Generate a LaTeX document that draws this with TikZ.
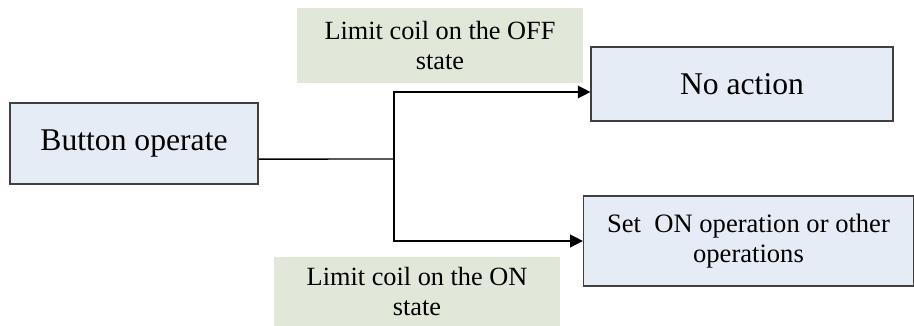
\documentclass[tikz,border=0pt]{standalone}
\usepackage{fontspec}
\setmainfont{Liberation Serif}
\usetikzlibrary{arrows.meta}
\definecolor{boxblue}{RGB}{230,236,246}
\definecolor{notegreen}{RGB}{225,232,218}
\begin{document}
\begin{tikzpicture}[x=0.025cm, y=-0.025cm,
        actionbox/.style={draw=black!75, line width=0.8pt, fill=boxblue, align=center, inner sep=0pt},
        statenote/.style={fill=notegreen, align=center, inner sep=0pt, minimum width=7.15cm,
            font=\fontsize{18.7}{21}\selectfont},
        flow/.style={line width=1pt, -{Triangle[length=9pt, width=9pt]}}]
        \useasboundingbox (0,0) rectangle (914,326);

        \node[actionbox, minimum width=6.2cm, minimum height=2.025cm,
            font=\fontsize{22.5}{25}\selectfont] (button) at (134,143.5) {Button operate};
        \node[actionbox, minimum width=7.55cm, minimum height=1.85cm,
            font=\fontsize{22.5}{25}\selectfont] (noaction) at (742,84) {No action};
        \node[actionbox, minimum width=8.25cm, minimum height=2.25cm,
            font=\fontsize{18.9}{21.3}\selectfont] (seton) at (748.5,241)
            {Set~ ON operation or other\\operations};

        \node[statenote, minimum height=1.875cm] (offnote) at (440,45.5)
            {Limit coil on the OFF\\state};
        \node[statenote, minimum height=1.725cm] (onnote) at (417,291.5)
            {Limit coil on the ON\\state};

        \coordinate (split) at (394,159);
        \draw[line width=1pt] ([yshift=-0.39cm]button.east) -- (split);
        \draw[flow] (split) |- ([yshift=-0.2cm]noaction.west);
        \draw[flow] (split) |- (seton.west);
    \end{tikzpicture}
\end{document}
